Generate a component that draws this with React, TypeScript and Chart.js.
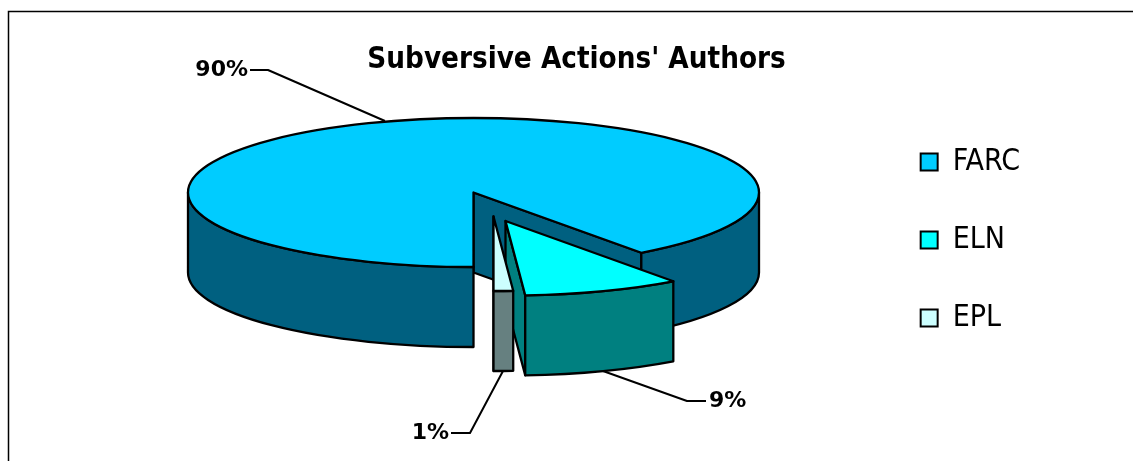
import React, { useEffect, useRef } from "react";
import { Chart, registerables } from "chart.js";

Chart.register(...registerables);

const categories = ["FARC", "ELN", "EPL"];
const shares = [90, 8.9, 1.1];
const topColors = ["#00CCFF", "#00FFFF", "#CCFFFF"];
const sideColors = ["#006080", "#008080", "#668080"];
const chartTitle = "Subversive Actions' Authors";

const FONT = "'DejaVu Sans Condensed', 'DejaVu Sans', sans-serif";
const LABEL_FONT = "'DejaVu Sans', sans-serif";

const pie3d = {
  cx: 473.5,
  cy: 192.5,
  rx: 285.5,
  ry: 74.5,
  depth: 80,
  explode: [
    [0, 0],
    [32, 28.5],
    [20, 24],
  ],
  leaders: [
    { tx: 248, ty: 70, pts: [[250, 70], [268, 70], [385, 121]] },
    { tx: 709, ty: 401, pts: [[706, 401], [687, 401], [603, 371]], left: true },
    { tx: 449, ty: 433, pts: [[451, 433], [470, 433], [503, 371]] },
  ],
};

const pie3dPlugin = {
  id: "pie3d",
  beforeDatasetsDraw(chart: any) {
    const ctx = chart.ctx as CanvasRenderingContext2D;
    const arcs = chart.getDatasetMeta(0).data;
    const { cx, cy, rx, ry, depth, explode, leaders } = pie3d;
    ctx.save();
    ctx.lineWidth = 2.3;
    ctx.lineJoin = "round";
    ctx.strokeStyle = "#000";

    arcs.forEach((arc: any, i: number) => {
      const { startAngle: a0, endAngle: a1, x, y, outerRadius: r } = arc.getProps(
        ["startAngle", "endAngle", "x", "y", "outerRadius"],
        true
      );
      const ox = cx + explode[i][0];
      const oy = cy + explode[i][1];
      ctx.fillStyle = sideColors[i];

      // cut wall at the slice's closing edge
      const ex = ox + rx * Math.cos(a1);
      const ey = oy + ry * Math.sin(a1);
      ctx.beginPath();
      ctx.moveTo(ox, oy);
      ctx.lineTo(ex, ey);
      ctx.lineTo(ex, ey + depth);
      ctx.lineTo(ox, oy + depth);
      ctx.closePath();
      ctx.fill();
      ctx.stroke();

      // outer wall: the parts of the rim that face the viewer
      for (let k = 0; k < 3; k++) {
        const lo = Math.max(a0, k * 2 * Math.PI);
        const hi = Math.min(a1, k * 2 * Math.PI + Math.PI);
        if (hi <= lo) continue;
        ctx.beginPath();
        ctx.ellipse(ox, oy, rx, ry, 0, lo, hi);
        ctx.ellipse(ox, oy + depth, rx, ry, 0, hi, lo, true);
        ctx.closePath();
        ctx.fill();
        ctx.stroke();
      }

      // top face, drawn by the library's arc element
      ctx.save();
      ctx.translate(ox, oy);
      ctx.scale(rx / r, ry / r);
      ctx.translate(-x, -y);
      arc.draw(ctx, chart.chartArea);
      ctx.restore();

      ctx.beginPath();
      ctx.moveTo(ox, oy);
      ctx.ellipse(ox, oy, rx, ry, 0, a0, a1);
      ctx.closePath();
      ctx.stroke();
    });

    // percentage labels with leader lines
    const total = shares.reduce((s, v) => s + v, 0);
    ctx.font = `bold 22px ${LABEL_FONT}`;
    ctx.lineWidth = 2;
    ctx.fillStyle = "#000";
    ctx.textBaseline = "middle";
    leaders.forEach((l: any, i: number) => {
      ctx.textAlign = l.left ? "left" : "right";
      ctx.fillText(`${Math.round((shares[i] / total) * 100)}%`, l.tx, l.ty);
      ctx.beginPath();
      l.pts.forEach((p: number[], j: number) =>
        j ? ctx.lineTo(p[0], p[1]) : ctx.moveTo(p[0], p[1])
      );
      ctx.stroke();
    });
    ctx.restore();
    return false;
  },
  beforeDraw(chart: any) {
    const ctx = chart.ctx as CanvasRenderingContext2D;
    ctx.save();
    ctx.fillStyle = "#fff";
    ctx.fillRect(0, 0, chart.width, chart.height);
    ctx.strokeStyle = "#000";
    ctx.lineWidth = 1.5;
    ctx.beginPath();
    ctx.moveTo(8.5, chart.height + 2);
    ctx.lineTo(8.5, 11.5);
    ctx.lineTo(chart.width + 2, 11.5);
    ctx.stroke();
    ctx.restore();
  },
};

export default function App() {
  const ref = useRef<HTMLCanvasElement>(null);
  useEffect(() => {
    document.body.style.margin = "0";
    const chart = new Chart(ref.current as HTMLCanvasElement, {
      type: "pie",
      data: {
        labels: categories,
        datasets: [
          {
            data: shares,
            backgroundColor: topColors,
            borderWidth: 0,
          },
        ],
      },
      plugins: [pie3dPlugin],
      options: {
        responsive: false,
        animation: false,
        rotation: 180,
        layout: { padding: { left: 123, right: 103, top: 43, bottom: 24 } },
        plugins: {
          title: {
            display: true,
            text: chartTitle,
            color: "#000",
            font: { family: FONT, size: 29.3, weight: "bold" },
            padding: 0,
          },
          legend: {
            position: "right",
            labels: {
              color: "#000",
              boxWidth: 17,
              boxHeight: 17,
              padding: 48,
              font: { family: FONT, size: 30 },
              generateLabels: () =>
                categories.map((text, i) => ({
                  text,
                  fillStyle: topColors[i],
                  strokeStyle: "#000",
                  lineWidth: 2,
                  index: i,
                })),
            },
          },
          tooltip: { enabled: false },
        },
      } as any,
    });
    return () => chart.destroy();
  }, []);
  return (
    <canvas
      ref={ref}
      width={1133}
      height={461}
      style={{ display: "block", width: 1133, height: 461 }}
    />
  );
}
